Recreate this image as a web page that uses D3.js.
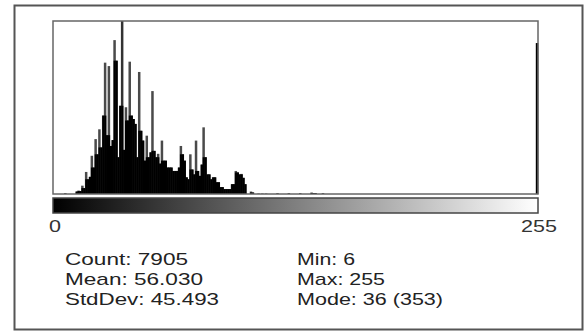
<!DOCTYPE html>
<html>
<head>
<meta charset="utf-8">
<script src="https://cdn.jsdelivr.net/npm/d3@7"></script>
<style>
  html, body { margin: 0; padding: 0; background: #fff; }
  svg { display: block; font-family: "Liberation Sans", Arial, sans-serif; }
</style>
</head>
<body>
<div id="chart"></div>
<script>
// histogram counts, bins 0..101 (rest are sparse / zero)
const mainCounts = [
  0, 0, 0, 0, 0, 0, 2, 0, 0, 0,
  0, 0, 5, 7, 6, 17, 12, 45, 30, 35,
  78, 54, 112, 81, 132, 95, 160, 268, 120, 261,
  98, 110, 314, 272, 75, 180, 353, 90, 177, 150,
  270, 160, 153, 143, 75, 249, 129, 109, 68, 119,
  75, 85, 210, 88, 75, 82, 62, 109, 68, 68,
  54, 54, 54, 47, 47, 47, 54, 98, 81, 68,
  34, 30, 81, 50, 40, 109, 47, 37, 60, 136,
  75, 40, 40, 30, 34, 34, 24, 24, 14, 14,
  10, 10, 10, 10, 20, 20, 47, 44, 40, 41,
  33, 20
];
// sparse tail: [bin, count]
const tailCounts = [[104, 5], [105, 3], [108, 1], [110, 1], [112, 1], [118, 2], [124, 2], [130, 2], [136, 3], [137, 2], [138, 2], [142, 2]];
const lastBin = [255, 308];

const statsLeft = ["Count: 7905", "Mean: 56.030", "StdDev: 45.493"];
const statsRight = ["Min: 6", "Max: 255", "Mode: 36 (353)"];
const axisLabels = [0, 255];

const counts = new Array(256).fill(0);
mainCounts.forEach((v, i) => counts[i] = v);
tailCounts.forEach(([b, v]) => counts[b] = v);
counts[lastBin[0]] = lastBin[1];

const width = 585, height = 333;
const svg = d3.select("#chart").append("svg")
  .attr("width", width)
  .attr("height", height);

// outer frame
svg.append("rect")
  .attr("x", 14.5).attr("y", 5.5)
  .attr("width", 568).attr("height", 324)
  .attr("fill", "none")
  .attr("stroke", "#555")
  .attr("stroke-width", 2);

const plot = { left: 53, right: 538, top: 21, bottom: 194 };

const x = d3.scaleLinear().domain([0, 256]).range([plot.left, plot.right]);
const y = d3.scaleLinear().domain([0, d3.max(counts)]).range([plot.bottom, plot.top]);

const data = counts.map((v, i) => ({
  bin: i,
  v,
  base: Math.min(v, Math.max(counts[i - 1] || 0, counts[i + 1] || 0))
}));

// spikes drawn grey, body drawn black underneath neighbour height
svg.append("g")
  .selectAll("rect")
  .data(data.filter(d => d.v > 0))
  .join("rect")
  .attr("x", d => x(d.bin) - 0.3)
  .attr("width", d => x(d.bin + 1) - x(d.bin) + 0.6)
  .attr("y", d => y(d.v))
  .attr("height", d => y(0) - y(d.v))
  .attr("fill", d => d.bin === 255 ? "#000" : d.bin === 36 ? "#333" : "#4a4a4a");

svg.append("g")
  .selectAll("rect")
  .data(data.filter(d => d.base > 0))
  .join("rect")
  .attr("x", d => x(d.bin))
  .attr("width", d => x(d.bin + 1) - x(d.bin) + 0.3)
  .attr("y", d => y(d.base))
  .attr("height", d => y(0) - y(d.base))
  .attr("fill", "#000");

// plot frame
svg.append("rect")
  .attr("x", plot.left).attr("y", plot.top)
  .attr("width", plot.right - plot.left)
  .attr("height", plot.bottom - plot.top)
  .attr("fill", "none")
  .attr("stroke", "#666")
  .attr("stroke-width", 1.5);

// gray ramp
const grad = svg.append("defs").append("linearGradient")
  .attr("id", "ramp");
grad.append("stop").attr("offset", "0%").attr("stop-color", "#000");
grad.append("stop").attr("offset", "100%").attr("stop-color", "#fff");

svg.append("rect")
  .attr("x", x(0)).attr("y", 198)
  .attr("width", x(256) - x(0))
  .attr("height", 15)
  .attr("fill", "url(#ramp)")
  .attr("stroke", "#444")
  .attr("stroke-width", 1.5);

const labelX = d3.scaleLinear().domain([0, 255]).range([55, 539]);
svg.append("g")
  .selectAll("text")
  .data(axisLabels)
  .join("text")
  .attr("x", d => labelX(d))
  .attr("y", 232)
  .attr("text-anchor", "middle")
  .attr("font-size", 17)
  .attr("fill", "#333")
  .attr("textLength", d => String(d).length * 12)
  .attr("lengthAdjust", "spacingAndGlyphs")
  .text(d => d);

const leftW = [123, 138, 154];
const rightW = [58, 88, 146];

function statBlock(lines, x0, widths) {
  svg.append("g")
    .selectAll("text")
    .data(lines)
    .join("text")
    .attr("x", x0)
    .attr("y", (d, i) => 265 + i * 20)
    .attr("font-size", 17)
    .attr("fill", "#222")
    .attr("textLength", (d, i) => widths[i])
    .attr("lengthAdjust", "spacingAndGlyphs")
    .text(d => d);
}
statBlock(statsLeft, 65, leftW);
statBlock(statsRight, 297, rightW);
</script>
</body>
</html>
